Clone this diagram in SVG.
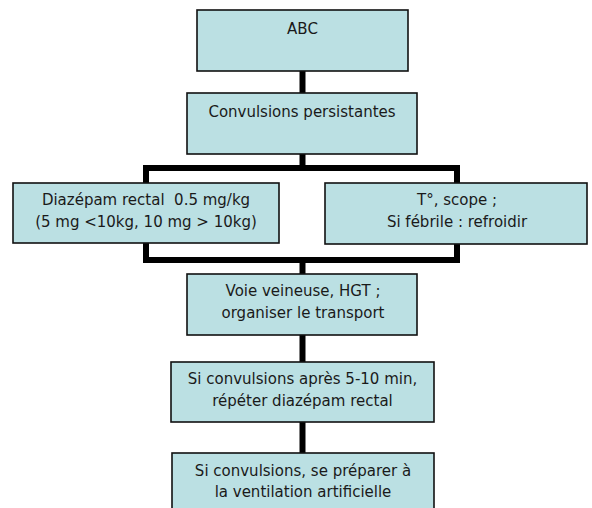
<svg xmlns="http://www.w3.org/2000/svg" width="592" height="508" viewBox="0 0 592 508">
<style>
.box{fill:#bbe0e3;stroke:#111;stroke-width:1.6}
.t{font-family:"DejaVu Sans",Verdana,sans-serif;font-size:15px;fill:#1a1a1a;text-anchor:middle;white-space:pre}
.c{fill:none;stroke:#000;stroke-width:6}
</style>
<rect width="592" height="508" fill="#fff"/>
<g id="connectors">
<line class="c" x1="302.5" y1="71" x2="302.5" y2="93"/>
<line class="c" x1="302.5" y1="154" x2="302.5" y2="168"/>
<polyline class="c" points="146,183 146,168 457,168 457,183"/>
<polyline class="c" points="146,243 146,260 457,260 457,244"/>
<line class="c" x1="302.5" y1="260" x2="302.5" y2="274"/>
<line class="c" x1="302.5" y1="335" x2="302.5" y2="362"/>
<line class="c" x1="302.5" y1="422" x2="302.5" y2="453"/>
</g>
<g id="n1"><rect class="box" x="197" y="10" width="211" height="61"/><text class="t" x="302.5" y="34">ABC</text></g>
<g id="n2"><rect class="box" x="187" y="93" width="230" height="61"/><text class="t" x="302" y="117">Convulsions persistantes</text></g>
<g id="n3"><rect class="box" x="13" y="183" width="266" height="60"/><text class="t" x="146" y="205" xml:space="preserve">Diazépam rectal  0.5 mg/kg</text><text class="t" x="146" y="227">(5 mg &lt;10kg, 10 mg &gt; 10kg)</text></g>
<g id="n4"><rect class="box" x="325" y="183" width="262" height="61"/><text class="t" x="457" y="205">T°, scope ;</text><text class="t" x="457" y="227">Si fébrile : refroidir</text></g>
<g id="n5"><rect class="box" x="187" y="274" width="230" height="61"/><text class="t" x="303" y="296">Voie veineuse, HGT ;</text><text class="t" x="303" y="318">organiser le transport</text></g>
<g id="n6"><rect class="box" x="171" y="362" width="263" height="60"/><text class="t" x="302.5" y="384">Si convulsions après 5-10 min,</text><text class="t" x="302.5" y="406">répéter diazépam rectal</text></g>
<g id="n7"><rect class="box" x="172" y="453" width="262" height="62"/><text class="t" x="303" y="476">Si convulsions, se préparer à</text><text class="t" x="303" y="497">la ventilation artificielle</text></g>
</svg>
